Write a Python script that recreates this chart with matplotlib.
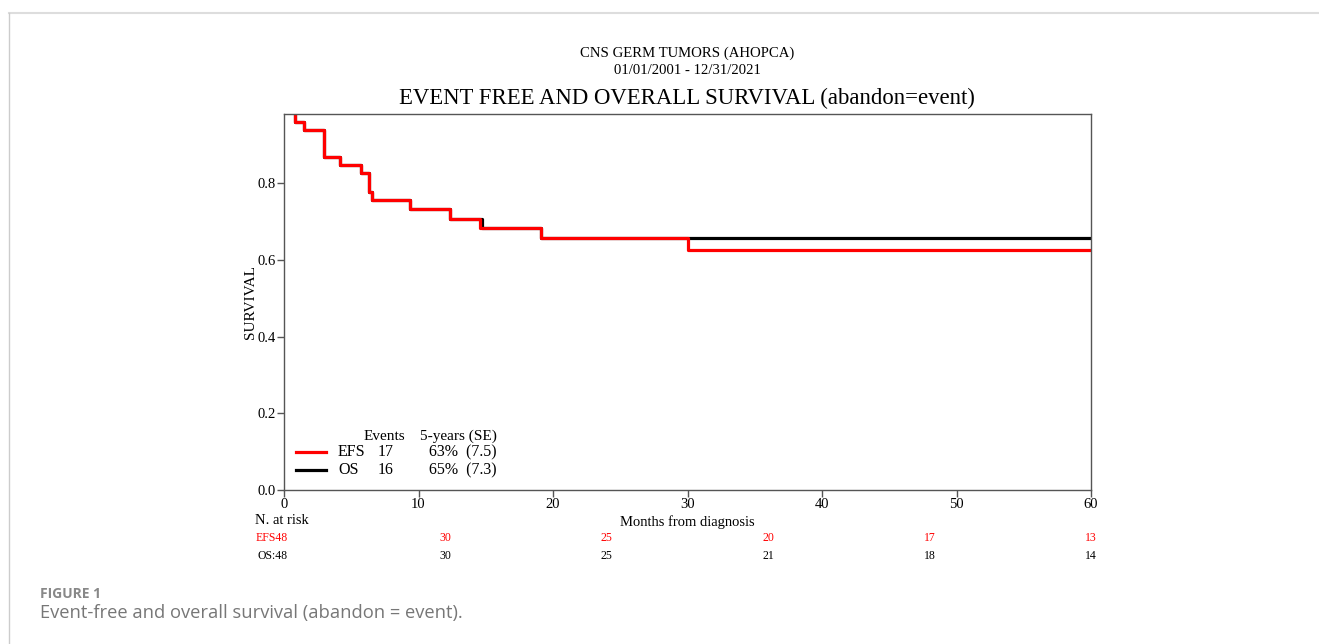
import matplotlib
matplotlib.use("Agg")
import matplotlib.pyplot as plt
from matplotlib.lines import Line2D

# %% data
efs_times = [0, 0.8, 1.5, 2.95, 4.15, 5.7, 6.35, 6.55, 9.4, 12.35, 14.55, 19.1, 30.0, 60]
efs_surv = [1.0, 0.958, 0.937, 0.868, 0.847, 0.825, 0.778, 0.755, 0.732, 0.707, 0.683, 0.657, 0.625, 0.625]

os_times = [0, 0.8, 1.5, 2.95, 4.15, 5.7, 6.35, 6.55, 9.4, 12.35, 14.7, 19.1, 60]
os_surv = [1.0, 0.958, 0.937, 0.868, 0.847, 0.825, 0.778, 0.755, 0.732, 0.707, 0.683, 0.657, 0.657]

risk_times = [12, 24, 36, 48, 60]
efs_risk = [30, 25, 20, 17, 13]
os_risk = [30, 25, 21, 18, 14]

legend_rows = [("EFS", "17", "63%  (7.5)", "red"), ("OS", "16", "65%  (7.3)", "black")]

serif = "Liberation Serif"
W, H = 1319, 644


def fx(px):
    return px / W


def fy(py):
    return 1 - py / H


# %% figure
fig = plt.figure(figsize=(W / 100, H / 100), dpi=100)
ax = fig.add_axes([fx(284), fy(490), (1091 - 284) / W, (490 - 114) / H])

ax.step(os_times, os_surv, where="post", color="black", lw=2.3)
ax.step(efs_times, efs_surv, where="post", color="red", lw=2.3)

ax.set_xlim(0, 60)
ax.set_ylim(0, 0.98)
ax.set_xticks(range(0, 61, 10))
ax.set_yticks([0, 0.2, 0.4, 0.6, 0.8])
ax.set_yticklabels(["0.0", "0.2", "0.4", "0.6", "0.8"])
for s in ax.spines.values():
    s.set_color("#555555")
    s.set_linewidth(1.0)
ax.tick_params(direction="out", length=5, width=1, color="#555555", pad=1,
               labelsize=10.5, labelfontfamily=serif)
ax.set_ylabel("SURVIVAL", family=serif, fontsize=11, labelpad=0)
ax.set_xlabel("Months from diagnosis", family=serif, fontsize=10.5, labelpad=3)

# legend table
fig.text(fx(364), fy(436), "Events", fontsize=11, family=serif, va="center")
fig.text(fx(497), fy(436), "5-years (SE)", fontsize=11, family=serif, va="center", ha="right")
for i, (name, ev, pct, col) in enumerate(legend_rows):
    yy = 452 + 18 * i
    fig.add_artist(Line2D([fx(296), fx(326)], [fy(yy)] * 2, transform=fig.transFigure,
                          color=col, lw=2.3))
    fig.text(fx(338), fy(yy), name, fontsize=11.5, family=serif, va="center")
    fig.text(fx(378), fy(yy), ev, fontsize=11.5, family=serif, va="center")
    fig.text(fx(497), fy(yy), pct, fontsize=11.5, family=serif, va="center", ha="right")

# titles
fig.text(fx(687), fy(53), "CNS GERM TUMORS (AHOPCA)", ha="center", va="center",
         fontsize=10.6, family=serif)
fig.text(fx(687), fy(71), "01/01/2001 - 12/31/2021", ha="center", va="center",
         fontsize=10.6, family=serif)
fig.text(fx(687), fy(98), "EVENT FREE AND OVERALL SURVIVAL (abandon=event)",
         ha="center", va="center", fontsize=16.4, family=serif)

# numbers at risk
fig.text(fx(255), fy(520), "N. at risk", fontsize=10.5, family=serif, va="center")
fig.text(fx(256), fy(538), "EFS48", fontsize=8.5, family=serif, va="center", color="red")
fig.text(fx(258), fy(556), "OS:48", fontsize=8.5, family=serif, va="center")
trans = ax.get_xaxis_transform()
for t, e, o in zip(risk_times, efs_risk, os_risk):
    ax.text(t, -(538 - 490) / 376, str(e), transform=trans, fontsize=8.5, family=serif,
            ha="center", va="center", color="red", clip_on=False)
    ax.text(t, -(556 - 490) / 376, str(o), transform=trans, fontsize=8.5, family=serif,
            ha="center", va="center", clip_on=False)

# page frame and caption
fig.add_artist(Line2D([fx(9), fx(1318)], [fy(13)] * 2, transform=fig.transFigure,
                      color="#dddddd", lw=1.5))
fig.add_artist(Line2D([fx(9)] * 2, [fy(13), 0], transform=fig.transFigure,
                      color="#cccccc", lw=1.0))
fig.text(fx(40), fy(594), "FIGURE 1", fontsize=10, family="Open Sans", weight="bold",
         color="#888888", va="center")
fig.text(fx(40), fy(613), "Event-free and overall survival (abandon = event).",
         fontsize=13.2, family="Open Sans", color="#777777", va="center")

fig.savefig("out.png", dpi=100)
